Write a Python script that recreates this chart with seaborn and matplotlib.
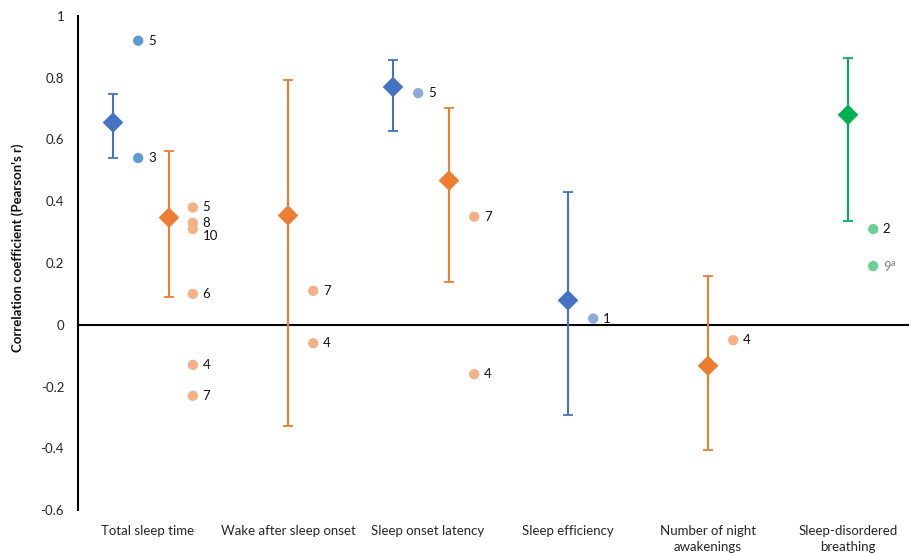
import matplotlib
matplotlib.use("Agg")
import matplotlib.pyplot as plt
import seaborn as sns
import pandas as pd

# Outcome categories along the x axis
categories = [
    "Total sleep time",
    "Wake after sleep onset",
    "Sleep onset latency",
    "Sleep efficiency",
    "Number of night\nawakenings",
    "Sleep-disordered\nbreathing",
]

# Pooled correlation estimates with their confidence limits
pooled_cat = [0, 2, 3, 0, 1, 2, 4, 5]
pooled_group = ["blue", "blue", "blue", "orange", "orange", "orange", "orange", "green"]
pooled_r = [0.655, 0.770, 0.079, 0.347, 0.354, 0.467, -0.133, 0.680]
pooled_lo = [0.539, 0.628, -0.293, 0.090, -0.327, 0.139, -0.406, 0.336]
pooled_hi = [0.748, 0.859, 0.430, 0.562, 0.794, 0.703, 0.159, 0.865]

# Individual study correlations and their study labels
study_cat = [0, 0, 0, 0, 0, 0, 0, 0, 1, 1, 2, 2, 2, 3, 4, 5, 5]
study_group = ["blue", "blue", "orange", "orange", "orange", "orange", "orange", "orange",
               "orange", "orange", "blue_l", "orange", "orange", "blue_l", "orange",
               "green", "green"]
study_r = [0.92, 0.54, 0.38, 0.33, 0.31, 0.10, -0.13, -0.23,
           0.11, -0.06, 0.75, 0.35, -0.16, 0.02, -0.05, 0.31, 0.19]
study_label = ["5", "3", "5", "8", "10", "6", "4", "7",
               "7", "4", "5", "7", "4", "1", "4", "2", "9"]

# Horizontal placement inside each category slot
pooled_offset = [-0.25, -0.25, 0.0, 0.15, 0.0, 0.15, 0.0, 0.0]
study_offset = [-0.07, -0.07, 0.32, 0.32, 0.32, 0.32, 0.32, 0.32,
                0.18, 0.18, -0.07, 0.33, 0.33, 0.18, 0.18, 0.18, 0.18]
label_nudge = [0, 0, 0, 0, -5, 0, 0, 0, 0, 0, 0, 0, 0, 0, 0, 0, 0]

y_ticks = [-0.6, -0.4, -0.2, 0, 0.2, 0.4, 0.6, 0.8, 1]
y_tick_labels = ["-0.6", "-0.4", "-0.2", "0", "0.2", "0.4", "0.6", "0.8", "1"]

dark = {"blue": "#4472C4", "orange": "#ED7D31", "green": "#00B050"}
light = {"blue": "#5B9BD5", "blue_l": "#8EAADB", "orange": "#F4B183", "green": "#6DCF96"}

pooled = pd.DataFrame({
    "x": [c + o for c, o in zip(pooled_cat, pooled_offset)],
    "r": pooled_r, "lo": pooled_lo, "hi": pooled_hi, "group": pooled_group,
})
studies = pd.DataFrame({
    "x": [c + o for c, o in zip(study_cat, study_offset)],
    "r": study_r, "group": study_group, "label": study_label,
})

sns.set_theme(style="white")
plt.rcParams["font.family"] = ["Lato", "DejaVu Sans"]
plt.rcParams["mathtext.fontset"] = "custom"
plt.rcParams["mathtext.rm"] = "Lato"

fig = plt.figure(figsize=(9.09, 5.53), dpi=100)
ax = fig.add_axes([78 / 909, 43 / 553, 840 / 909, 494 / 553])

# Confidence intervals
for _, row in pooled.iterrows():
    ax.errorbar(row["x"], row["r"],
                yerr=[[row["r"] - row["lo"]], [row["hi"] - row["r"]]],
                fmt="none", ecolor=dark[row["group"]], elinewidth=1.5,
                capsize=3.5, capthick=1.3, zorder=2)

# Individual studies
sns.scatterplot(data=studies, x="x", y="r", hue="group", palette=light,
                s=55, linewidth=0, legend=False, ax=ax, zorder=3)

# Pooled estimates
sns.scatterplot(data=pooled, x="x", y="r", hue="group", palette=dark,
                marker="D", s=110, linewidth=0, legend=False, ax=ax, zorder=4)

# Study number next to each study point
for i, row in studies.iterrows():
    txt = row["label"]
    color = "#111111"
    if row["group"] == "green" and txt == "9":
        txt = "9$^{\\rm a}$"
        color = "#808080"
    ax.annotate(txt, (row["x"], row["r"]), xytext=(7, label_nudge[i]),
                textcoords="offset points", ha="left", va="center",
                fontsize=9.5, color=color, zorder=5)

ax.axhline(0, color="black", lw=1.5, zorder=1)

ax.set_xlim(-0.5, 5.5)
ax.set_ylim(-0.6, 1.0)
ax.set_yticks(y_ticks)
ax.set_yticklabels(y_tick_labels)
ax.set_xticks(range(len(categories)))
ax.set_xticklabels(categories, linespacing=1.35)
ax.tick_params(axis="both", length=0, labelsize=9.5, labelcolor="#262626")
ax.tick_params(axis="x", pad=11)
ax.tick_params(axis="y", pad=10)
ax.set_xlabel("")
ax.set_ylabel("Correlation coefficient (Pearson's r)", fontsize=9.5,
              fontweight="bold", color="#111111")
ax.yaxis.set_label_coords(-0.064, 0.53)

for side in ["top", "right", "bottom"]:
    ax.spines[side].set_visible(False)
ax.spines["left"].set_color("black")
ax.spines["left"].set_linewidth(1.5)

fig.savefig("out.png", dpi=100)
